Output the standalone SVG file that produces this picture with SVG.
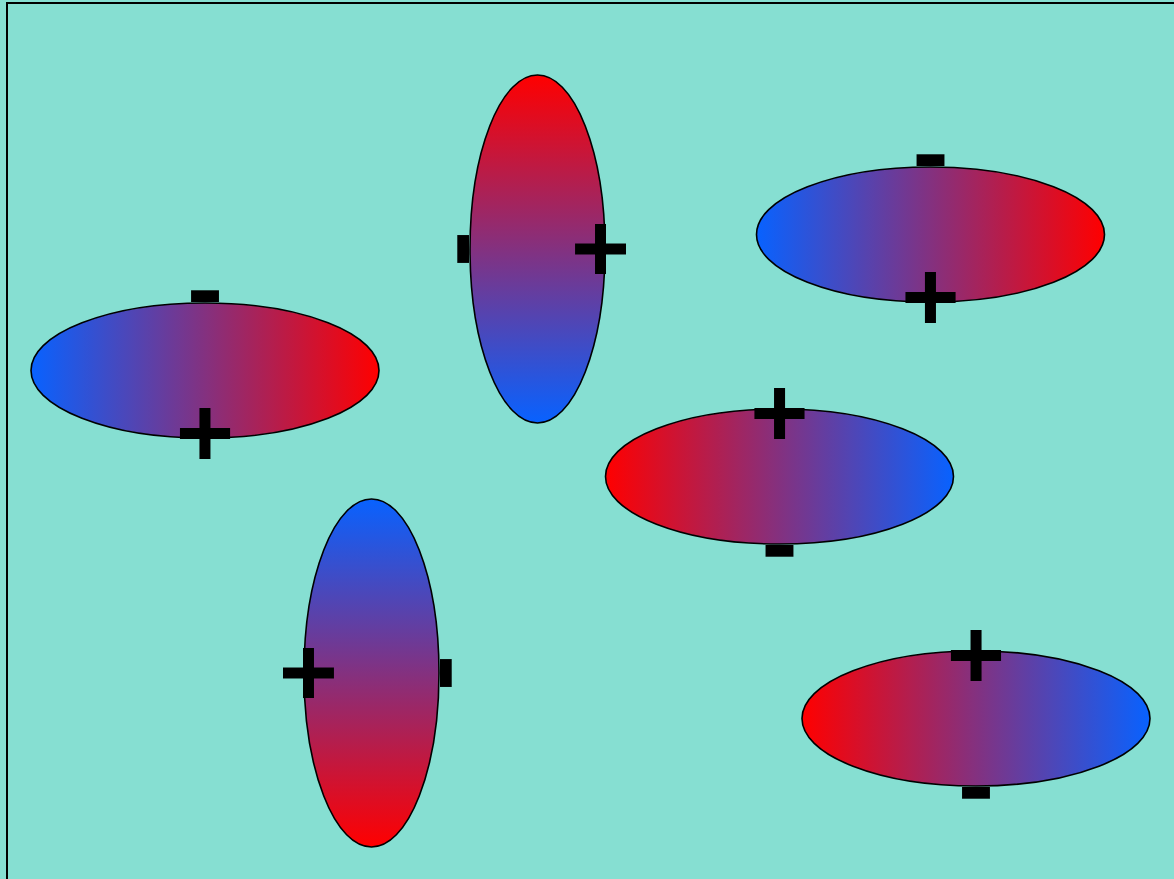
<svg xmlns="http://www.w3.org/2000/svg" width="1174" height="879" viewBox="0 0 1174 879">
  <style>
    .dipole { fill: url(#grad); stroke: #000; stroke-width: 1.6; }
    .plus { font-family: "Liberation Sans", Arial, sans-serif; font-weight: bold; font-size: 100px; text-anchor: middle; fill: #000; }
    .minus { font-family: "Liberation Sans", Arial, sans-serif; font-weight: bold; font-size: 110px; text-anchor: middle; fill: #000; }
  </style>
  <defs>
    <linearGradient id="grad" x1="0" y1="0" x2="1" y2="0">
      <stop offset="0" stop-color="#0862ff"/>
      <stop offset="1" stop-color="#ff0000"/>
    </linearGradient>
  </defs>
  <rect x="0" y="0" width="1174" height="879" fill="#86dfd2"/>
  <rect x="7" y="3" width="1200" height="900" fill="none" stroke="#000" stroke-width="2"/>

  <g id="dipole1" transform="translate(205,370.5)">
    <ellipse class="dipole" cx="0" cy="0" rx="174" ry="67.5"/>
    <text class="minus" x="0" y="-54" transform="scale(1,0.9)">-</text>
    <text class="plus" x="0" y="96.5">+</text>
  </g>
  <g id="dipole2" transform="translate(537.5,249) rotate(-90)">
    <ellipse class="dipole" cx="0" cy="0" rx="174" ry="67.5"/>
    <text class="minus" x="0" y="-54" transform="scale(1,0.9)">-</text>
    <text class="plus" x="0" y="96.5">+</text>
  </g>
  <g id="dipole3" transform="translate(930.5,234.5)">
    <ellipse class="dipole" cx="0" cy="0" rx="174" ry="67.5"/>
    <text class="minus" x="0" y="-54" transform="scale(1,0.9)">-</text>
    <text class="plus" x="0" y="96.5">+</text>
  </g>
  <g id="dipole4" transform="translate(779.5,476.5) rotate(180)">
    <ellipse class="dipole" cx="0" cy="0" rx="174" ry="67.5"/>
    <text class="minus" x="0" y="-54" transform="scale(1,0.9)">-</text>
    <text class="plus" x="0" y="96.5">+</text>
  </g>
  <g id="dipole5" transform="translate(371.5,673) rotate(90)">
    <ellipse class="dipole" cx="0" cy="0" rx="174" ry="67.5"/>
    <text class="minus" x="0" y="-54" transform="scale(1,0.9)">-</text>
    <text class="plus" x="0" y="96.5">+</text>
  </g>
  <g id="dipole6" transform="translate(976,718.5) rotate(180)">
    <ellipse class="dipole" cx="0" cy="0" rx="174" ry="67.5"/>
    <text class="minus" x="0" y="-54" transform="scale(1,0.9)">-</text>
    <text class="plus" x="0" y="96.5">+</text>
  </g>
  <g id="connectors"></g>
</svg>
